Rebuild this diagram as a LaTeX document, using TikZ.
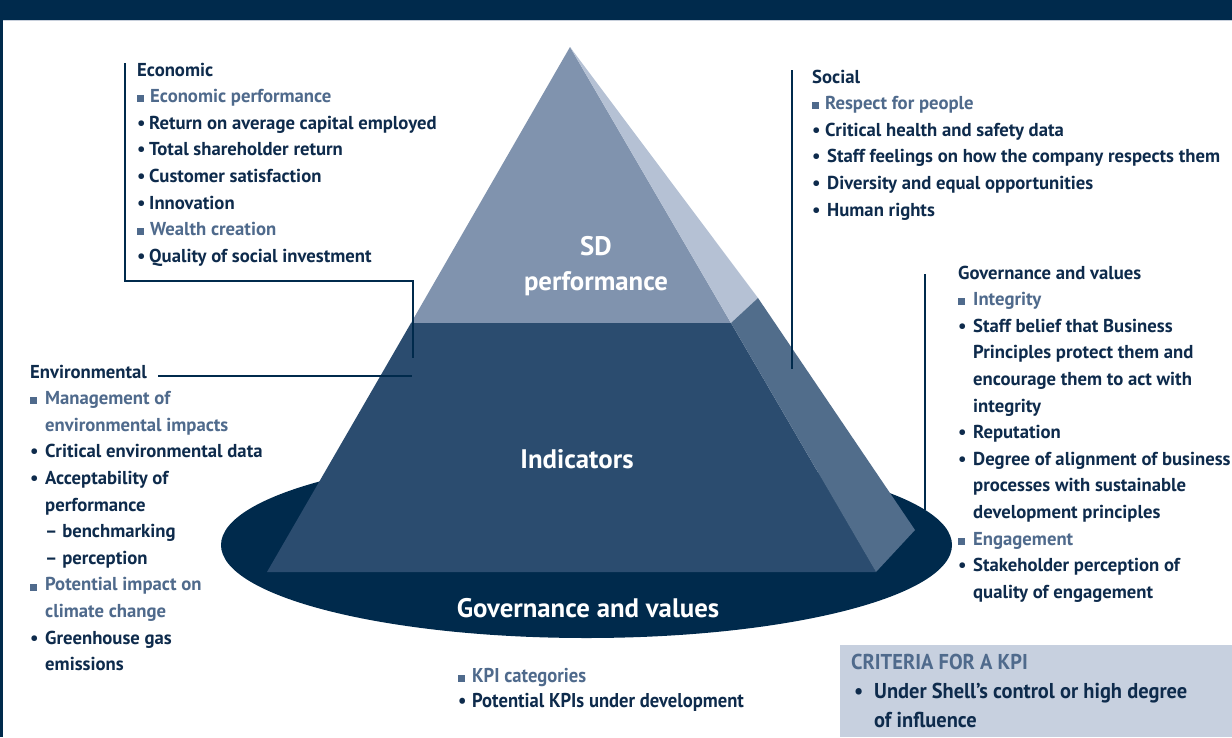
\documentclass[tikz,border=0pt]{standalone}
\usepackage{fontspec}
\setmainfont{PT Sans}
\newfontfamily\condL{PT Sans}[FakeStretch=0.93]
\newfontfamily\condC{PT Sans}[FakeStretch=0.95]
\definecolor{navy}{HTML}{002A4C}
\definecolor{txtc}{HTML}{0E2B4C}
\definecolor{sqc}{HTML}{4F6A8C}
\definecolor{sdtop}{HTML}{8093AE}
\definecolor{indic}{HTML}{2B4C6F}
\definecolor{sidelt}{HTML}{B5C1D4}
\definecolor{sidedk}{HTML}{516D8B}
\definecolor{crit}{HTML}{C7D0DF}
\definecolor{hairline}{HTML}{C8D0DC}
\newcommand{\sqi}[2]{\makebox[#1][l]{\textcolor{sqc}{\rule[0.3pt]{7pt}{7pt}}}\textcolor{sqc}{#2}}
\newcommand{\bui}[1]{\makebox[#1][l]{•}}
\tikzset{
  txt/.style={font=\bfseries\fontsize{18.7}{26.6}\selectfont, align=left, inner sep=0pt, text=txtc, anchor=north west},
  conn/.style={draw=navy, line width=2.5pt},
  big/.style={font=\bfseries\fontsize{26.8}{35}\selectfont, text=white, align=center, inner sep=0pt},
}
\begin{document}
\begin{tikzpicture}[x=1pt,y=-1pt]
\useasboundingbox (0,0) rectangle (1232,737);
\fill[white] (0,0) rectangle (1232,737);
\fill[navy] (0,0) rectangle (1232,20);
\draw[hairline, line width=0.8pt] (0,20.4) -- (1232,20.4);
\draw[navy, line width=2.5pt] (1.25,0) -- (1.25,737);
\fill[crit] (840,645) rectangle (1232,737);
% ellipse
\fill[navy] (586.5,545) ellipse [x radius=365.5, y radius=93];
% pyramid
\coordinate (apex) at (570,47);
\coordinate (fl) at (411,323);
\coordinate (fr) at (731,323);
\coordinate (bl) at (267,572);
\coordinate (br) at (876,572);
\coordinate (sm) at (758,298);
\coordinate (sb) at (915,530);
\fill[sdtop] (apex) -- (fr) -- (fl) -- cycle;
\fill[indic] (fl) -- (fr) -- (br) -- (bl) -- cycle;
\fill[sidelt] (apex) -- (sm) -- (fr) -- cycle;
\fill[sidedk] (fr) -- (sm) -- (sb) -- (br) -- cycle;
\node[big] (sd) at (596,266) {SD\\performance};
\node[big] (ind) at (577,459) {Indicators};
\node[big] (gov) at (588,608) {Governance and values};
% connectors
\coordinate (ecoTop) at (125,63);
\coordinate (ecoTurn) at (413,281);
\coordinate (ecoEnd) at (413,358);
\draw[conn] (ecoTop) |- (ecoTurn) -- (ecoEnd);
\coordinate (envA) at (158,376);
\coordinate (envB) at (412,376);
\draw[conn] (envA) -- (envB);
\coordinate (socA) at (792,70);
\coordinate (socB) at (792,369);
\draw[conn] (socA) -- (socB);
\coordinate (govA) at (925,274);
\coordinate (govB) at (925,510);
\draw[conn] (govA) -- (govB);
% text blocks
\node[txt] (eco) at (137,62.5) {Economic\\
\sqi{13pt}{Economic performance}\\
\bui{12pt}Return on average capital employed\\
\bui{12pt}Total shareholder return\\
\bui{12pt}Customer satisfaction\\
\bui{12pt}Innovation\\
\sqi{13pt}{Wealth creation}\\
\bui{12pt}Quality of social investment};
\node[txt] (soc) at (812,69.5) {Social\\
\sqi{13pt}{Respect for people}\\
\bui{13pt}Critical health and safety data\\
\bui{15pt}Staff feelings on how the company respects them\\
\bui{15pt}Diversity and equal opportunities\\
\bui{15pt}Human rights};
\node[txt] (gv) at (958,265.5) {Governance and values\\
\sqi{15pt}{Integrity}\\
\bui{15pt}Staff belief that Business\\
\hspace*{15pt}Principles protect them and\\
\hspace*{15pt}encourage them to act with\\
\hspace*{15pt}integrity\\
\bui{15pt}Reputation\\
\bui{15pt}Degree of alignment of business\\
\hspace*{15pt}processes with sustainable\\
\hspace*{15pt}development principles\\
\sqi{15pt}{Engagement}\\
\bui{15pt}Stakeholder perception of\\
\hspace*{15pt}quality of engagement};
\node[txt] (env) at (30,364.5) {Environmental\\
\sqi{15pt}{Management of}\\
\hspace*{15pt}\textcolor{sqc}{environmental impacts}\\
\bui{15pt}Critical environmental data\\
\bui{15pt}Acceptability of\\
\hspace*{15pt}performance\\
\hspace*{15pt}-- benchmarking\\
\hspace*{15pt}-- perception\\
\sqi{15pt}{Potential impact on}\\
\hspace*{15pt}\textcolor{sqc}{climate change}\\
\bui{15pt}Greenhouse gas\\
\hspace*{15pt}emissions};
\node[txt, font=\condL\bfseries\fontsize{20}{25}\selectfont] (leg) at (458,668) {\sqi{14pt}{KPI categories}\\
\bui{14pt}Potential KPIs under development};
\node[txt, font=\condC\bfseries\fontsize{21.5}{29}\selectfont] (cr) at (851,654) {\textcolor{sqc}{CRITERIA FOR A KPI}\\
\makebox[23pt][l]{\hspace*{3pt}•}Under Shell’s control or high degree\\
\hspace*{23pt}of influence};
\end{tikzpicture}
\end{document}
